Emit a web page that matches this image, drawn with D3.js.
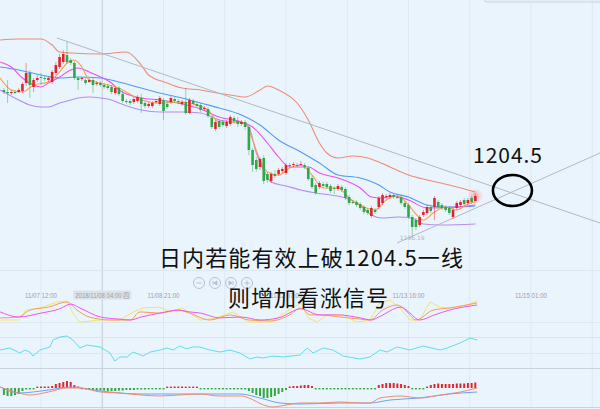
<!DOCTYPE html>
<html><head><meta charset="utf-8">
<script src="https://cdn.jsdelivr.net/npm/d3@7"></script>
<style>html,body{margin:0;padding:0;background:#eaf4fd;overflow:hidden}</style>
</head><body><svg id="c" width="600" height="409"></svg>
<script>
// ---------- DATA ----------
const candleOpen  = [1225.4,1225.0,1224.8,1225.0,1225.0,1225.2,1226.8,1228.8,1226.0,1227.4,1228.0,1227.8,1227.4,1227.0,1228.8,1230.0,1231.0,1232.4,1231.4,1230.8,1227.8,1227.6,1227.4,1227.0,1227.4,1226.6,1226.8,1226.4,1226.2,1226.0,1224.8,1225.8,1224.6,1223.2,1223.2,1223.0,1223.2,1223.8,1222.8,1222.2,1222.2,1223.0,1222.6,1223.4,1222.6,1223.0,1223.6,1223.2,1222.6,1223.0,1220.8,1223.2,1222.6,1222.4,1221.6,1221.6,1219.8,1217.6,1219.2,1219.0,1218.2,1218.6,1219.8,1219.2,1218.6,1219.0,1218.0,1213.4,1211.4,1210.0,1211.8,1208.6,1207.2,1208.6,1208.6,1209.2,1208.8,1210.4,1210.4,1210.4,1210.4,1210.4,1209.8,1207.8,1206.4,1206.0,1206.6,1206.6,1206.2,1205.8,1205.6,1206.0,1205.6,1204.0,1203.0,1203.0,1202.6,1202.0,1201.4,1200.2,1201.4,1202.0,1202.8,1204.0,1204.0,1204.4,1204.0,1204.0,1202.8,1202.4,1200.0,1199.4,1198.4,1200.4,1200.8,1202.0,1202.0,1203.0,1202.4,1202.0,1201.8,1200.0,1201.8,1202.4,1203.4,1202.8,1203.8,1203.2];
const candleClose = [1225.0,1224.8,1225.0,1224.9,1225.4,1226.6,1228.8,1226.4,1227.4,1227.8,1227.8,1227.7,1227.8,1229.0,1230.4,1232.0,1232.6,1231.0,1230.8,1227.8,1227.4,1227.8,1226.8,1227.4,1226.4,1226.8,1226.4,1226.0,1225.8,1225.0,1225.8,1224.6,1223.2,1223.0,1222.8,1223.6,1224.0,1222.6,1222.2,1222.6,1222.8,1223.2,1223.8,1221.2,1222.0,1223.8,1223.2,1223.0,1223.0,1220.8,1223.4,1222.6,1222.2,1221.4,1221.8,1220.2,1218.0,1219.0,1218.0,1218.4,1219.0,1220.0,1219.2,1218.6,1219.0,1218.0,1213.4,1210.4,1209.6,1211.6,1207.2,1207.4,1208.6,1208.2,1209.4,1209.6,1210.4,1210.2,1210.6,1210.3,1210.6,1210.0,1207.6,1206.0,1204.8,1206.8,1206.2,1206.0,1205.2,1205.6,1206.2,1205.4,1203.8,1202.8,1202.9,1202.4,1201.8,1201.0,1200.8,1201.8,1201.0,1203.8,1204.4,1204.2,1204.4,1204.0,1203.9,1202.8,1202.0,1200.0,1198.0,1198.0,1200.0,1201.0,1202.0,1201.2,1203.8,1202.0,1201.8,1201.4,1200.8,1201.4,1202.8,1203.0,1202.6,1203.4,1203.0,1204.2];
const candleHigh  = [1225.8,1227.4,1225.4,1225.4,1225.8,1227.0,1230.8,1229.4,1227.8,1228.4,1228.8,1228.2,1228.2,1229.4,1231.0,1232.6,1233.4,1235.0,1231.8,1231.2,1228.2,1228.0,1227.8,1227.8,1227.8,1227.2,1227.2,1226.8,1226.6,1226.4,1226.2,1226.2,1225.4,1223.6,1223.6,1224.0,1224.4,1224.6,1223.2,1223.0,1223.2,1223.6,1224.2,1223.8,1223.2,1224.2,1224.0,1223.6,1223.4,1225.8,1223.8,1223.6,1223.0,1222.8,1222.2,1222.0,1220.2,1219.4,1219.6,1219.4,1219.4,1220.4,1220.2,1220.0,1219.4,1219.4,1218.4,1213.8,1212.0,1212.0,1212.4,1209.0,1209.0,1209.4,1209.8,1210.0,1210.8,1210.8,1211.0,1210.8,1211.2,1210.8,1210.2,1208.2,1206.8,1207.2,1207.0,1207.0,1206.6,1206.2,1206.6,1206.4,1206.0,1204.4,1203.4,1203.4,1203.0,1202.4,1201.8,1202.2,1201.8,1204.2,1204.8,1204.6,1204.8,1204.6,1204.4,1204.4,1203.2,1202.8,1200.4,1199.8,1200.4,1201.4,1202.4,1202.4,1204.2,1203.4,1202.8,1202.4,1202.2,1201.8,1203.2,1203.4,1203.8,1203.8,1204.2,1204.8];
const candleLow   = [1224.6,1222.8,1224.4,1224.6,1224.8,1224.8,1226.2,1223.8,1225.0,1227.0,1226.4,1227.2,1227.0,1226.6,1228.4,1229.6,1230.6,1230.6,1230.4,1227.4,1225.4,1227.2,1226.4,1226.8,1224.8,1226.2,1226.0,1225.6,1225.4,1224.6,1224.4,1224.2,1222.8,1222.6,1222.4,1222.6,1222.8,1220.8,1221.8,1221.8,1221.8,1222.6,1222.2,1219.4,1221.6,1222.6,1222.8,1222.6,1222.2,1220.4,1220.6,1222.2,1221.8,1221.0,1221.2,1219.8,1217.6,1217.2,1217.6,1218.0,1217.8,1218.2,1218.6,1218.0,1218.2,1217.4,1212.4,1209.0,1209.0,1209.4,1206.6,1206.8,1206.8,1207.8,1208.2,1208.8,1208.4,1209.8,1210.0,1210.0,1210.2,1209.6,1207.2,1205.6,1204.4,1205.6,1205.8,1205.6,1204.8,1204.6,1205.2,1205.0,1203.4,1202.4,1202.6,1202.0,1201.4,1200.6,1200.4,1199.8,1200.6,1201.6,1202.4,1203.6,1203.6,1203.6,1203.6,1202.4,1201.6,1199.6,1196.19,1197.4,1198.0,1200.0,1200.4,1200.8,1199.4,1201.6,1201.4,1201.0,1200.4,1199.6,1201.4,1202.0,1202.2,1202.4,1202.6,1203.0];

// Bollinger / moving averages: [candle index, price]
const bollUpper = [[-1,1235.4],[4,1235.6],[10,1235.6],[13,1234.4],[15,1233.0],[18,1232.8],[26,1232.6],[33,1233.0],[37,1230.4],[39,1228.4],[44,1226.8],[48,1225.8],[53,1225.4],[56,1225.0],[61,1224.4],[65,1224.0],[69,1225.4],[71,1226.2],[74,1225.4],[79,1222.8],[82,1219.4],[85,1214.8],[87,1212.8],[90,1211.8],[94,1212.2],[98,1211.8],[101,1211.0],[104,1210.0],[109,1208.4],[114,1207.4],[120,1206.4],[127,1205.0]];
const bollMid   = [[-1,1230.0],[4,1229.4],[10,1228.4],[15,1227.8],[20,1228.0],[26,1227.8],[31,1227.0],[37,1225.8],[42,1224.8],[48,1223.8],[53,1222.8],[58,1221.8],[64,1220.4],[69,1218.4],[74,1215.4],[80,1213.0],[85,1210.8],[90,1208.4],[96,1207.8],[101,1206.4],[104,1205.0],[109,1204.0],[114,1202.4],[118,1202.0],[122,1202.0],[127,1202.2]];
const bollLower = [[-1,1225.4],[4,1223.4],[7,1222.4],[10,1222.0],[12,1222.0],[15,1222.8],[18,1223.4],[20,1223.8],[23,1224.0],[26,1223.8],[29,1223.4],[31,1222.8],[34,1222.0],[37,1221.4],[42,1221.0],[48,1221.0],[53,1220.8],[58,1219.4],[64,1218.8],[66,1218.0],[68,1212.8],[70,1209.4],[72,1207.0],[76,1206.2],[80,1205.4],[84,1204.8],[88,1204.4],[92,1203.8],[96,1202.4],[99,1200.4],[102,1199.8],[106,1200.0],[110,1199.8],[113,1198.6],[118,1198.4],[127,1198.6]];
const ma10 = [[-1,1231.0],[2,1230.0],[5,1227.8],[8,1226.4],[10,1226.0],[12,1226.8],[15,1228.0],[18,1229.4],[20,1229.8],[23,1229.0],[26,1228.0],[29,1226.8],[31,1225.4],[37,1223.8],[42,1223.4],[48,1222.6],[53,1221.6],[58,1220.0],[64,1219.0],[67,1218.0],[71,1214.8],[74,1212.0],[77,1210.0],[80,1210.0],[82,1210.0],[85,1208.8],[90,1207.8],[96,1205.8],[99,1204.0],[102,1203.8],[105,1204.2],[109,1203.4],[114,1201.8],[122,1202.0],[127,1202.4]];
const ma5 = [[-1,1227.8],[2,1225.4],[5,1225.0],[8,1226.4],[12,1227.0],[15,1229.0],[17,1230.8],[19,1231.4],[21,1230.0],[23,1227.4],[26,1226.8],[31,1225.8],[37,1223.4],[42,1222.8],[48,1223.0],[52,1222.4],[55,1221.4],[58,1219.0],[62,1219.0],[65,1218.8],[67,1215.4],[69,1211.4],[71,1209.0],[74,1208.4],[77,1209.8],[80,1210.4],[83,1208.4],[86,1205.8],[90,1205.8],[93,1203.8],[97,1202.0],[100,1201.4],[103,1203.4],[106,1204.2],[109,1202.4],[111,1200.6],[113,1199.4],[116,1201.0],[119,1202.0],[122,1201.4],[125,1202.6],[127,1203.0]];

// KDJ [index, value]
const kdjK = [[-1,27],[4,30],[7,53],[12,63],[17,80],[19.7,53],[23,30],[28.6,20],[34,20],[36.7,47],[42,43],[47,53],[50,43],[55.5,20],[61,37],[66,20],[72,17],[77,37],[80,60],[82.5,37],[85,37],[90.5,30],[96,23],[98.6,20],[102,53],[106,70],[108.6,47],[111,20],[115.6,53],[120,60],[127.5,77]];
const kdjD = [[-1,47],[4,30],[10,43],[15,57],[18,73],[20.5,60],[26,30],[31,23],[34,20],[37,30],[42,43],[47,53],[50,47],[53,43],[58,27],[64,30],[69,20],[74,27],[80,57],[85,37],[90,37],[96,27],[99,20],[101,30],[107,63],[109,47],[112,20],[116,37],[120,53],[127.5,70]];
const kdjJ = [[-1,20],[4,20],[6,53],[9.7,60],[14.3,80],[17,83],[18.6,43],[20.5,13],[26,20],[31,20],[35,47],[37.5,60],[42,63],[44.75,47],[48,60],[53,20],[57.4,27],[61.7,47],[66,13],[72,13],[76,47],[80,77],[82,27],[84.4,13],[87,37],[91.4,37],[95,13],[98.6,20],[101.3,77],[104,87],[106.7,60],[109.4,20],[112,20],[114.8,80],[117.5,63],[120,60],[124.8,70],[127.5,83]];

// RSI [index, value]
const rsi = [[-1,37.5],[1.6,42.5],[4.3,30],[5.7,37.5],[7,32.5],[7.8,22.5],[9.7,37.5],[12.4,45],[13.2,62.5],[15.1,70],[17,72.5],[18.6,62.5],[20.5,42.5],[22.4,50],[25.9,45],[28.6,30],[29.9,10],[31.3,20],[33.2,20],[34.8,32.5],[37.5,22.5],[39.4,32.5],[42.1,37.5],[43.9,42.5],[45.6,37.5],[47.4,47.5],[49.3,40],[50.9,45],[52.8,45],[55.5,37.5],[58.2,32.5],[60.9,37.5],[63.6,30],[66.3,15],[68.2,20],[69.8,17.5],[72.5,22.5],[75.2,20],[79.8,25],[81.7,42.5],[83.3,30],[86,42.5],[88.7,37.5],[91.4,22.5],[95.9,15],[98.6,20],[101.3,37.5],[103.2,32.5],[105.9,45],[109.4,37.5],[112.9,47.5],[117.5,37.5],[119.4,42.5],[122.9,55],[125.6,67.5],[127.5,62.5]];

// MACD
const macdHist = [-0.7,-0.8,-0.8,-0.7,-0.6,-0.3,-0.15,-0.15,-0.1,0.1,
 0.1,0.15,0.15,0.2,0.4,0.5,0.6,0.7,0.6,0.3,
 0.15,-0.1,-0.15,-0.2,-0.2,-0.2,-0.25,-0.25,-0.3,-0.3,
 -0.3,-0.25,-0.25,-0.2,-0.2,-0.2,-0.15,-0.15,-0.15,-0.1,
 -0.1,-0.1,-0.1,-0.1,0.1,0.1,0.15,0.15,0.15,0.1,
 0.1,0.1,0.1,-0.1,-0.1,-0.1,-0.1,-0.1,-0.1,-0.1,
 -0.1,-0.1,-0.1,-0.1,-0.1,-0.15,-0.3,-0.5,-0.7,-0.8,
 -1.0,-1.0,-0.9,-0.8,-0.6,-0.4,-0.2,0.15,0.2,0.2,
 0.25,0.3,0.3,0.2,-0.07,-0.07,-0.07,-0.07,-0.07,-0.07,
 -0.07,-0.07,-0.07,-0.07,-0.07,-0.07,-0.07,-0.07,-0.07,-0.07,
 -0.07,0.3,0.4,0.5,0.5,0.5,0.45,0.4,0.3,0.2,
 -0.07,-0.07,-0.07,-0.07,0.1,0.3,0.4,0.45,0.4,0.4,
 0.4,0.4,0.45,0.45,0.45,0.5,0.5,0.55];
const macdDif = [[-1,0.1],[4,-0.5],[7,-0.7],[12,-0.4],[17,0],[20.5,0],[26,-0.4],[31,-0.5],[37,-0.7],[42,-0.8],[47,-0.7],[53,-0.6],[58,-0.8],[64,-0.8],[66,-1.0],[70,-1.7],[72.5,-1.9],[76,-1.7],[80,-1.5],[85,-1.5],[90.5,-1.4],[96,-1.5],[98.6,-1.5],[101.3,-1.0],[107,-0.8],[112,-1.0],[117.5,-0.7],[123,-0.4],[127.5,0]];
const macdDea = [[-1,0.1],[4,-0.5],[12,-0.2],[18,0.1],[26,-0.3],[37,-0.6],[52.8,-0.6],[63.6,-0.6],[69,-1.0],[74.4,-1.5],[79.8,-1.6],[90.5,-1.5],[98.6,-1.5],[104,-1.2],[112,-1.0],[120,-0.6],[127.5,-0.4]];

const timeLabels = ["11/07 12:00","11/08 21:00","11/12 07:00","11/13 16:00","11/15 01:00"];
const timeLabelIdx = [10,43,76,109,142];
const crossIdx = 26.5, crossLabel = "2018/11/08 04:00 四";
const minIdx = 110, minLabel = "1196.19";
const resistLevel = "1204.5";
const trendDown = [[14.3,1235.8],[160.6,1198.8]];
const trendUp = [[105.9,1194.8],[160.6,1212.8]];
const circleAt = [137,1205.3];
const note1 = "日内若能有效上破1204.5一线";
const note2 = "则增加看涨信号";

// ---------- SCALES ----------
const svg = d3.select('#c');
const x = d3.scaleLinear().domain([10,142]).range([41,531]);
const yP = d3.scaleLinear().domain([1187.4,1243.4]).range([280,0]);
const yK = d3.scaleLinear().domain([0,100]).range([326,296]);
const yR = d3.scaleLinear().domain([0,100]).range([365,325]);
const yM = d3.scaleLinear().domain([-2,2]).range([408,368]);

svg.append('rect').attr('width',600).attr('height',409).attr('fill','#eaf4fd');

// vertical grid
const gridIdx = d3.range(0,10).map(k=>10+16.5*k);
svg.selectAll('.vg').data(gridIdx).join('line')
  .attr('x1',d=>x(d)).attr('x2',d=>x(d)).attr('y1',0).attr('y2',409)
  .attr('stroke',d=>d===crossIdx?'#c3cbd6':'#dde8f3').attr('stroke-width',1);

// horizontal separators
const hl=(y,c)=>svg.append('line').attr('x1',0).attr('x2',600).attr('y1',y).attr('y2',y).attr('stroke',c).attr('stroke-width',1);
hl(270.5,'#dce7f2'); hl(322.5,'#dde8f3');
hl(yR(70)+0.5,'#f1d9dc'); hl(yR(30)+0.5,'#d6efdc');
hl(368.5,'#c9d2dd'); hl(407.5,'#c9d2dd');

// top right tooltip edge
svg.append('rect').attr('x',484).attr('y',-9).attr('width',125).attr('height',11).attr('rx',3)
  .attr('fill','#e6edf5').attr('stroke','#cbd4df');

// lines in main chart
const mkLine=(ys,curve)=>d3.line().x(d=>x(d[0])).y(d=>ys(d[1])).curve(curve||d3.curveMonotoneX);
const drawL=(data,ys,color,w,curve)=>svg.append('path').datum(data).attr('d',mkLine(ys,curve))
  .attr('fill','none').attr('stroke',color).attr('stroke-width',w||1);

drawL(bollUpper,yP,'#ee8c76',1.1);
drawL(bollLower,yP,'#b58cf0',1.1);
drawL(bollMid,yP,'#4f9cf2',1.1);
drawL(ma10,yP,'#f04ef0',1.1);
drawL(ma5,yP,'#f6a04e',1.1);

// trendlines
const tl=(p,c)=>svg.append('line').attr('x1',x(p[0][0])).attr('y1',yP(p[0][1])).attr('x2',x(p[1][0])).attr('y2',yP(p[1][1]))
  .attr('stroke',c).attr('stroke-width',1);
tl(trendDown,'#b4b8bd'); tl(trendUp,'#b4b8bd');

// glow on last candle
const defs=svg.append('defs');
const rg=defs.append('radialGradient').attr('id','glow');
rg.append('stop').attr('offset','0%').attr('stop-color','#ff5050').attr('stop-opacity',0.45);
rg.append('stop').attr('offset','100%').attr('stop-color','#ff5050').attr('stop-opacity',0);
const last=candleClose.length-1;
svg.append('circle').attr('cx',x(last)).attr('cy',yP(candleClose[last])).attr('r',8).attr('fill','url(#glow)');

// candles
const idx=d3.range(candleOpen.length);
const up=i=>candleClose[i]>=candleOpen[i];
const RED='#e5222c', GRN='#2fa84a';
svg.selectAll('.wk').data(idx).join('line')
  .attr('x1',i=>x(i)).attr('x2',i=>x(i)).attr('y1',i=>yP(candleHigh[i])).attr('y2',i=>yP(candleLow[i]))
  .attr('stroke',i=>up(i)?RED:GRN).attr('stroke-opacity',0.45).attr('stroke-width',1);
svg.selectAll('.bd').data(idx).join('rect')
  .attr('x',i=>x(i)-1.3).attr('width',2.6)
  .attr('y',i=>yP(Math.max(candleOpen[i],candleClose[i])))
  .attr('height',i=>Math.max(1,Math.abs(yP(candleOpen[i])-yP(candleClose[i]))))
  .attr('fill',i=>up(i)?RED:GRN);

// min label
svg.append('text').attr('x',x(minIdx)).attr('y',yP(candleLow[minIdx])+4).text(minLabel)
  .attr('font-family','DejaVu Sans').attr('font-size',6).attr('fill','#b0b4ba').attr('text-anchor','middle');

// KDJ
drawL(kdjJ,yK,'#f5e36a',1,d3.curveLinear);
drawL(kdjK,yK,'#f2a055',1,d3.curveMonotoneX);
drawL(kdjD,yK,'#ef55ef',1,d3.curveMonotoneX);

// RSI
drawL(rsi,yR,'#62dced',1,d3.curveLinear);

// MACD
svg.selectAll('.mh').data(idx).join('rect')
  .attr('x',i=>x(i)-1).attr('width',2)
  .attr('y',i=>{const v=macdHist[i];const h=Math.max(1.4,Math.abs(yM(v)-yM(0)));return v>=0?yM(0)-h:yM(0);})
  .attr('height',i=>Math.max(1.4,Math.abs(yM(macdHist[i])-yM(0))))
  .attr('fill',i=>macdHist[i]>=0?'#e3262e':'#34a83c');
drawL(macdDea,yM,'#6fa2f2',1);
drawL(macdDif,yM,'#f08a72',1);

// time labels
svg.selectAll('.tlab').data(timeLabels).join('text')
  .attr('x',(d,k)=>x(timeLabelIdx[k])-16).attr('y',297.5).text(d=>d)
  .attr('font-family','Liberation Sans').attr('font-size',7).attr('fill','#9aa0a8')
  .attr('textLength',32).attr('lengthAdjust','spacingAndGlyphs');
const cg=svg.append('g');
cg.append('rect').attr('x',x(crossIdx)-29).attr('y',290.5).attr('width',58).attr('height',9).attr('fill','#dde2e9');
cg.append('text').attr('x',x(crossIdx)-27).attr('y',297.5).text(crossLabel)
  .attr('font-family','Liberation Sans, Noto Sans CJK SC').attr('font-size',7).attr('fill','#9aa0a8')
  .attr('textLength',54).attr('lengthAdjust','spacingAndGlyphs');

// zoom buttons
const btnX=[199,215,231,247];
const bg=svg.append('g').attr('stroke','#b4c0d2').attr('fill','none').attr('stroke-width',1);
btnX.forEach((bx,k)=>{
  bg.append('circle').attr('cx',bx).attr('cy',283).attr('r',5.5);
  if(k===0) bg.append('line').attr('x1',bx-2.5).attr('x2',bx+2.5).attr('y1',283).attr('y2',283);
  if(k===3){ bg.append('line').attr('x1',bx-2.5).attr('x2',bx+2.5).attr('y1',283).attr('y2',283);
             bg.append('line').attr('x1',bx).attr('x2',bx).attr('y1',280.5).attr('y2',285.5);}
  if(k===1){ bg.append('line').attr('x1',bx-2).attr('x2',bx-2).attr('y1',281).attr('y2',285);
             bg.append('path').attr('d',`M${bx+2},281 L${bx-1},283 L${bx+2},285 Z`).attr('fill','#b4c0d2');}
  if(k===2){ bg.append('line').attr('x1',bx+2).attr('x2',bx+2).attr('y1',281).attr('y2',285);
             bg.append('path').attr('d',`M${bx-2},281 L${bx+1},283 L${bx-2},285 Z`).attr('fill','#b4c0d2');}
});

// annotations
svg.append('text').attr('x',159).attr('y',266).text(note1)
  .attr('font-family','Noto Sans CJK SC').attr('font-size',22).attr('fill','#111')
  .attr('textLength',304).attr('lengthAdjust','spacing');
svg.append('text').attr('x',228).attr('y',306).text(note2)
  .attr('font-family','Noto Sans CJK SC').attr('font-size',22).attr('fill','#111')
  .attr('textLength',160).attr('lengthAdjust','spacing');
svg.append('text').attr('x',473).attr('y',163).text(resistLevel)
  .attr('font-family','Noto Sans CJK SC').attr('font-size',21).attr('fill','#111')
  .attr('textLength',69).attr('lengthAdjust','spacing');
svg.append('ellipse').attr('cx',x(circleAt[0])).attr('cy',yP(circleAt[1])).attr('rx',19.5).attr('ry',15.5)
  .attr('fill','none').attr('stroke','#000').attr('stroke-width',2.6);
</script></body></html>
